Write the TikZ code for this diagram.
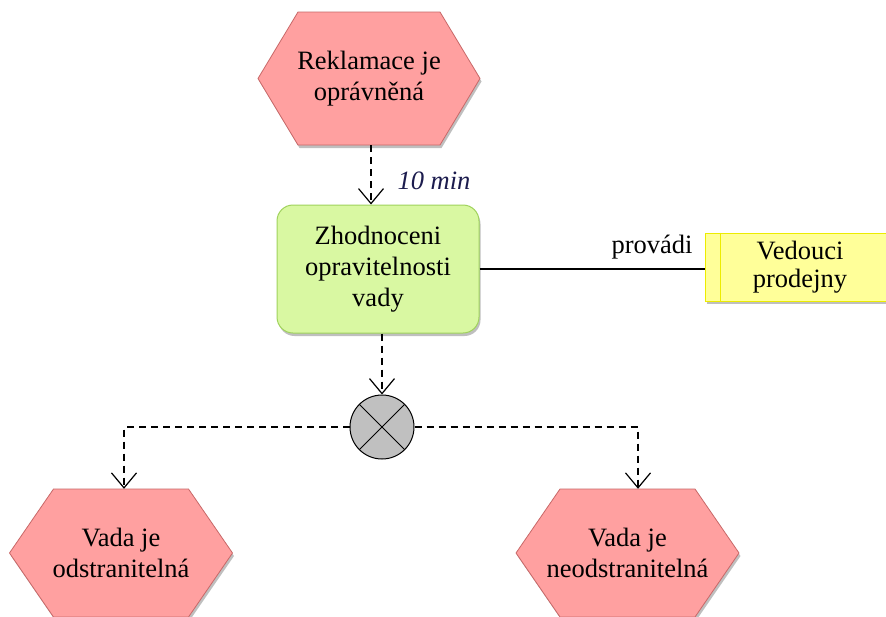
\documentclass[tikz,border=0pt]{standalone}
\usepackage{fontspec}
\setmainfont{Liberation Serif}
\usetikzlibrary{arrows.meta,backgrounds,shadows}

\definecolor{evfill}{RGB}{255,160,160}
\definecolor{evline}{RGB}{200,104,104}
\definecolor{fnfill}{RGB}{217,248,162}
\definecolor{fnline}{RGB}{160,210,92}
\definecolor{orgfill}{RGB}{255,255,153}
\definecolor{orgline}{RGB}{236,236,0}
\definecolor{xorfill}{RGB}{192,192,192}
\definecolor{timecol}{RGB}{28,28,78}

\tikzset{
  lbl/.style={font=\fontsize{26.5}{31}\selectfont, align=center, text=black},
  softshadow/.style={drop shadow={shadow xshift=1.5pt, shadow yshift=-3pt, opacity=0.25, fill=black}},
  evbody/.style={lbl, inner sep=0pt, minimum height=#1},
  evshape/.style={fill=evfill, draw=evline, line width=0.8pt, softshadow},
  fnbox/.style={lbl, draw=fnline, fill=fnfill, rounded corners=16pt, line width=1pt,
    minimum width=202pt, minimum height=128pt, inner sep=0pt, softshadow},
  orgbox/.style={lbl, draw=orgline, fill=orgfill, line width=1pt,
    minimum width=190pt, minimum height=68pt, inner sep=0pt, softshadow},
  xorgate/.style={circle, draw=black, fill=xorfill, line width=1pt,
    minimum size=64pt, inner sep=0pt},
  flow/.style={draw=black, line width=1.2pt, dash pattern=on 7pt off 5pt,
    -{Straight Barb[length=15pt,width=25pt,line width=1.2pt]}},
  assoc/.style={draw=black, line width=1.2pt},
  note/.style={font=\fontsize{26.5}{31}\selectfont, inner sep=0pt},
}

% hexagonal event outline: node name, half width of the flat top,
% half height, length of the side points
\newcommand{\evhex}[4]{%
  \path[evshape] ([shift={(-#2,-#3)}]#1.center) -- ([shift={(#2,-#3)}]#1.center)
    -- ([shift={(#2+#4,0)}]#1.center) -- ([shift={(#2,#3)}]#1.center)
    -- ([shift={(-#2,#3)}]#1.center) -- ([shift={(-#2-#4,0)}]#1.center) -- cycle;}

\begin{document}
\begin{tikzpicture}[x=1pt, y=-1pt]
  \clip (0,0) rectangle (886,616);

  % events
  \node[evbody=133pt] (e1) at (369,78.5) {Reklamace je\\oprávněná};
  \node[evbody=128pt] (e3) at (121,553) {Vada je\\odstranitelná};
  \node[evbody=128pt] (e4) at (627.5,553) {Vada je\\neodstranitelná};

  % function
  \node[fnbox] (f1) at (378,269) {Zhodnoceni\\opravitelnosti\\vady};

  % organisational unit
  \node[orgbox] (o1) at (800,267) {Vedouci\\[-3pt]prodejny};
  \draw[orgline, line width=1pt] ([xshift=16pt]o1.north west) -- ([xshift=16pt]o1.south west);

  % XOR connector
  \node[xorgate] (x1) at (382,427) {};
  \draw[line width=1pt] (x1.north west) -- (x1.south east) (x1.north east) -- (x1.south west);

  \begin{scope}[on background layer]
    \fill[white] (0,0) rectangle (886,616);
    \evhex{e1}{71}{66.5}{40}
    \evhex{e3}{67.5}{64}{44}
    \evhex{e4}{67.5}{64}{44}
  \end{scope}

  % control flow
  \draw[flow] ([xshift=2pt]e1.south) -- ([xshift=2pt]e1.south |- f1.north);
  \draw[flow] (x1.north |- f1.south) -- (x1.north);
  \draw[flow] (x1.west) -| ([xshift=3pt]e3.north);
  \draw[flow] (x1.east) -| ([xshift=10.5pt]e4.north);

  % labels
  \node[note, anchor=base, text=timecol, font=\fontsize{26.5}{31}\selectfont\itshape] (t1) at (434,189) {10 min};

  % association
  \draw[assoc] (f1.east) -- (f1.east -| o1.west);
  \node[note, anchor=base] (a1) at (652,253) {provádi};
\end{tikzpicture}
\end{document}
